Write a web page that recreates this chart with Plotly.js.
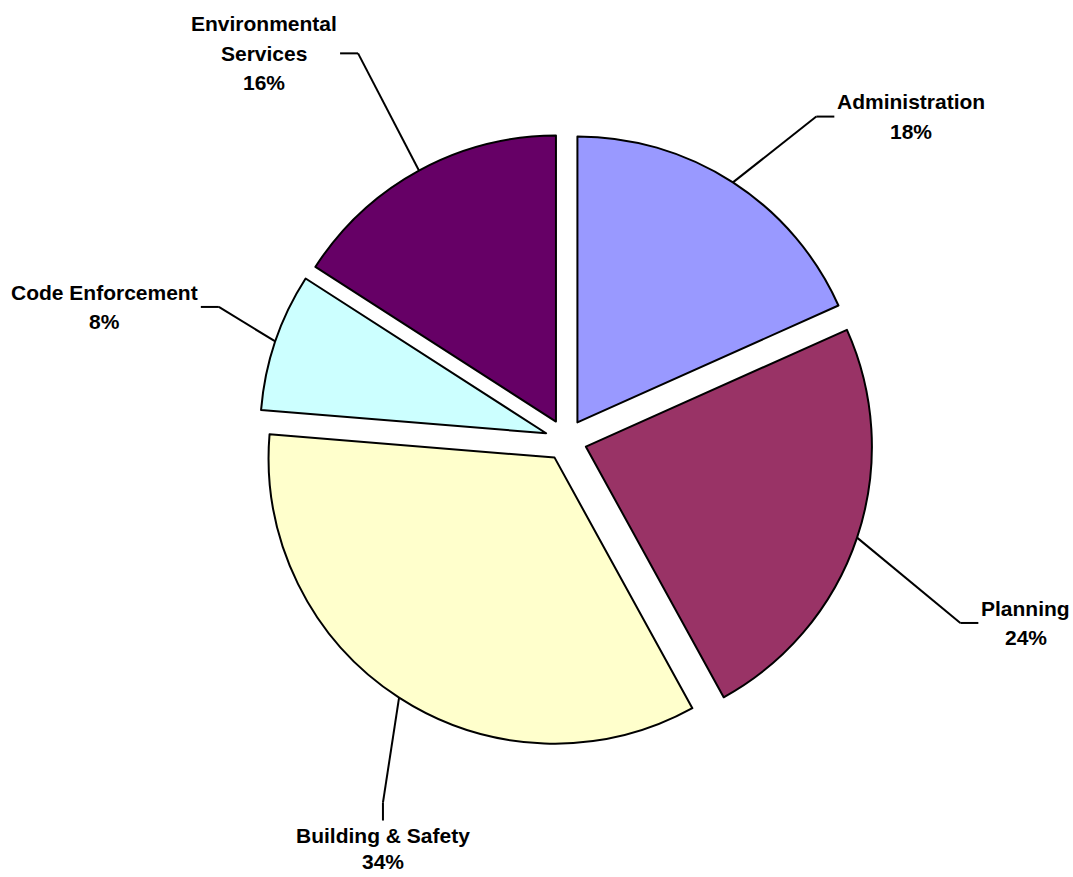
<!DOCTYPE html>
<html><head><meta charset="utf-8">
<script src="https://cdn.plot.ly/plotly-3.0.1.min.js"></script>
<style>html,body{margin:0;padding:0;background:#fff;overflow:hidden}</style>
</head><body><div id="chart" style="width:1073px;height:877px"></div>
<script>
// ---- data ----
const categories = ["Administration", "Planning", "Building & Safety", "Code Enforcement", "Environmental Services"];
const labelLines = [["Administration"], ["Planning"], ["Building & Safety"], ["Code Enforcement"], ["Environmental", "Services"]];
const shares = [18.3, 23.7, 34.3, 7.8, 15.9];
const colors = ["#9999FF", "#993366", "#FFFFCC", "#CCFFFF", "#660066"];

// ---- layout geometry (not data) ----
const W = 1073, H = 877;
const CX = 566, CY = 440, R = 286, PULL = 0.0734;
const elbowFactor = [1.43, 1.52, 1.42, 1.30, 1.535];
const elbowTurn = [4.8, 6.35, -6.15, 2.25, 0.35];
const stubKind = ["h", "h", "v", "h", "h"];
const STUB = 18, LH = 29.5, LHV = 26;
const FONT = {family: "Liberation Sans, Arial, sans-serif", size: 21, color: "#000"};

const ctx = document.createElement("canvas").getContext("2d");
ctx.font = "bold 21px 'Liberation Sans', Arial, sans-serif";
const textW = s => ctx.measureText(s).width;

const total = shares.reduce((a, b) => a + b, 0);
const px = x => x / W, py = y => 1 - y / H;
const box = 2 * R * (1 + PULL);

const shapes = [], annotations = [];
const lineStyle = {color: "#000", width: 2};
function seg(x0, y0, x1, y1) {
  shapes.push({type: "line", xref: "paper", yref: "paper", x0: px(x0), y0: py(y0), x1: px(x1), y1: py(y1), line: lineStyle});
}
function txt(s, x, y) {
  annotations.push({xref: "paper", yref: "paper", x: px(x), y: py(y), xanchor: "center", yanchor: "middle",
    text: "<b>" + s + "</b>", showarrow: false, font: FONT});
}

let cum = 0;
shares.forEach((v, i) => {
  const mid = (cum + v / 2) / total * 360;
  cum += v;
  const rad = mid * Math.PI / 180;
  const ax = CX + R * (1 + PULL) * Math.sin(rad);
  const ay = CY - R * (1 + PULL) * Math.cos(rad);
  const ea = (mid + elbowTurn[i]) * Math.PI / 180;
  const ex = CX + R * elbowFactor[i] * Math.sin(ea);
  const ey = CY - R * elbowFactor[i] * Math.cos(ea);
  seg(ax, ay, ex, ey);
  const lines = labelLines[i].concat([Math.round(v / total * 100) + "%"]);
  const n = lines.length;
  if (stubKind[i] === "v") {
    const sy = ey + STUB;
    seg(ex, ey, ex, sy);
    lines.forEach((s, k) => txt(s, ex, sy + 15 + k * LHV));
  } else {
    const dir = ex >= CX ? 1 : -1;
    const sx = ex + dir * STUB;
    seg(ex, ey, sx, ey);
    const bw = Math.max(...lines.map(textW));
    const bx = sx + dir * (3 + bw / 2);
    lines.forEach((s, k) => txt(s, bx, ey + (k - (n - 1) / 2) * LH));
  }
});

const trace = {
  type: "pie",
  labels: categories,
  values: shares,
  sort: false,
  direction: "clockwise",
  rotation: 0,
  pull: shares.map(() => PULL),
  marker: {colors: colors, line: {color: "#000", width: 2}},
  textinfo: "none",
  hoverinfo: "label+percent",
  showlegend: false,
  domain: {x: [px(CX - box / 2), px(CX + box / 2)], y: [py(CY + box / 2), py(CY - box / 2)]}
};

Plotly.newPlot("chart", [trace], {
  width: W, height: H,
  margin: {l: 0, r: 0, t: 0, b: 0},
  paper_bgcolor: "#fff",
  showlegend: false,
  shapes: shapes,
  annotations: annotations
}, {staticPlot: true});
</script></body></html>
